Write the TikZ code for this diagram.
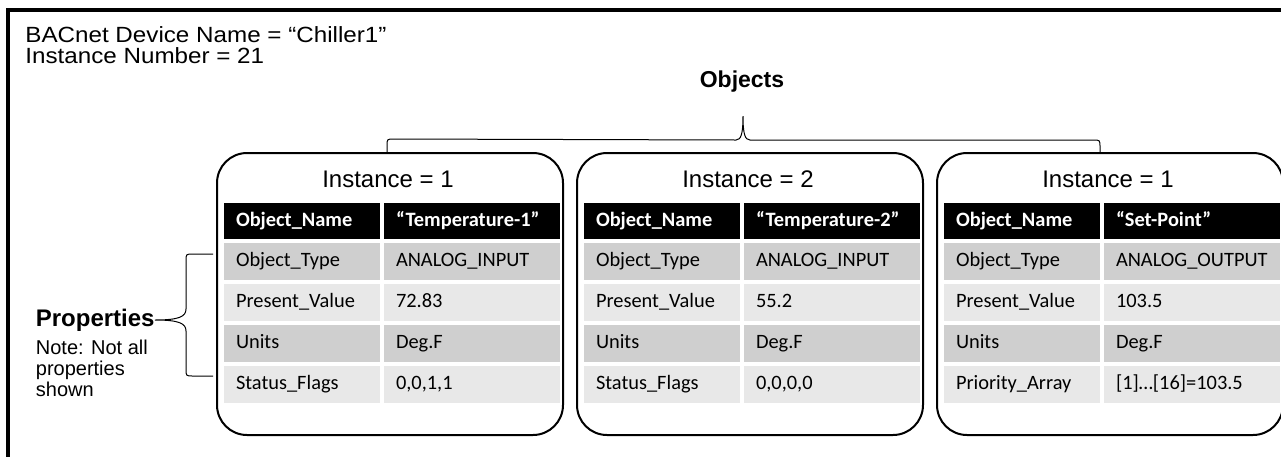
\documentclass[tikz,border=0pt]{standalone}
\usepackage{fontspec}
\setmainfont{Liberation Sans}
\newfontfamily\widefont{Liberation Sans}[FakeStretch=1.1]
\newfontfamily\cellfont{Carlito}
\usetikzlibrary{positioning,calc}

\tikzset{
  objbox/.style={draw,line width=1pt,rounded corners=15pt,minimum width=173pt,minimum height=141pt},
  cell/.style={draw=white,line width=1pt,anchor=north west,minimum height=19.5pt,inner xsep=6.5pt,
    text height=7.2pt,text depth=2.2pt,align=left,font=\cellfont\fontsize{10.2}{12}\selectfont},
  keycell/.style={cell,text width=66pt},
  valcell/.style={cell,text width=76pt},
  hdr/.style={fill=black,text=white,minimum height=19pt,font=\cellfont\bfseries\fontsize{10.2}{12}\selectfont},
  dark/.style={fill=black!19},
  light/.style={fill=black!9},
  bracket/.style={line width=0.5pt}
}

% one object: rounded box, instance label and its property table
% #1 name, #2 centre x, #3 instance, #4 object name, #5 type, #6 present value,
% #7 last property, #8 its value
\newcommand{\objtable}[8]{%
  \node[objbox] (#1) at (#2,294) {};
  \node[font=\fontsize{12}{14}\selectfont] (#1-inst) at (#2-2,179) {Instance = #3};
  \node[keycell,hdr] (#1-k0) at (#2-168,201) {Object\_Name};
  \node[valcell,hdr] (#1-v0) at (#1-k0.north east) {#4};
  \node[keycell,dark] (#1-k1) at (#1-k0.south west) {Object\_Type};
  \node[valcell,dark] (#1-v1) at (#1-k1.north east) {#5};
  \node[keycell,light] (#1-k2) at (#1-k1.south west) {Present\_Value};
  \node[valcell,light] (#1-v2) at (#1-k2.north east) {#6};
  \node[keycell,dark] (#1-k3) at (#1-k2.south west) {Units};
  \node[valcell,dark] (#1-v3) at (#1-k3.north east) {Deg.F};
  \node[keycell,light] (#1-k4) at (#1-k3.south west) {#7};
  \node[valcell,light] (#1-v4) at (#1-k4.north east) {#8};
}

\begin{document}
\begin{tikzpicture}[x=0.5pt,y=-0.5pt]
  \useasboundingbox (0,0) rectangle (1281,456);
  \clip (0,0) rectangle (1281,456);

  % device frame, runs on past the page
  \draw[line width=2pt] (8,480) -- (8,10) -- (1300,10);

  \node[anchor=north west,inner sep=0pt,align=left,font=\widefont\fontsize{11}{10.5}\selectfont] (device)
    at (25,26) {BACnet Device Name = “Chiller1”\\Instance Number = 21};

  \node[font=\bfseries\fontsize{11.5}{14}\selectfont] (objects) at (742,82) {Objects};

  \objtable{obj1}{390}{1}{“Temperature-1”}{ANALOG\_INPUT}{72.83}{Status\_Flags}{0,0,1,1}
  \objtable{obj2}{750}{2}{“Temperature-2”}{ANALOG\_INPUT}{55.2}{Status\_Flags}{0,0,0,0}
  \objtable{obj3}{1110}{1}{“Set-Point”}{ANALOG\_OUTPUT}{103.5}{Priority\_Array}{[1]…[16]=103.5}

  % brace over the objects
  \coordinate (objL) at ([xshift=-1.5pt]obj1.north);
  \coordinate (objR) at ([xshift=-5pt]obj3.north);
  \coordinate (objtip) at (743,116);
  \draw[bracket] (objL) -- ++(0,-6) .. controls +(0,-7) .. +(7,-7)
    -- (736,140) .. controls (741,140) and (743,134) .. (objtip)
    .. controls (743,134) and (745,140) .. (750,140)
    -- (1093,140) .. controls (1100,140) .. (1100,147) -- (objR);

  % brace along the property rows
  \coordinate (propT) at (213,254);
  \coordinate (propB) at (213,376);
  \coordinate (proptip) at (155,320);
  \draw[bracket] (propT) -- (193,254) .. controls (186,254) .. (186,261)
    -- (186,309) .. controls (186,317) and (178,320) .. (proptip)
    .. controls (178,320) and (186,323) .. (186,331)
    -- (186,369) .. controls (186,376) .. (193,376) -- (propB);

  \node[anchor=base east,inner sep=0pt,font=\bfseries\fontsize{12}{14}\selectfont] (props)
    at (155,326) {Properties};
  \node[below=4pt of props.south west,anchor=north west,inner sep=0pt,align=left,
    font=\fontsize{10}{10.5}\selectfont] (note) {Note: Not all\\properties\\shown};
\end{tikzpicture}
\end{document}
